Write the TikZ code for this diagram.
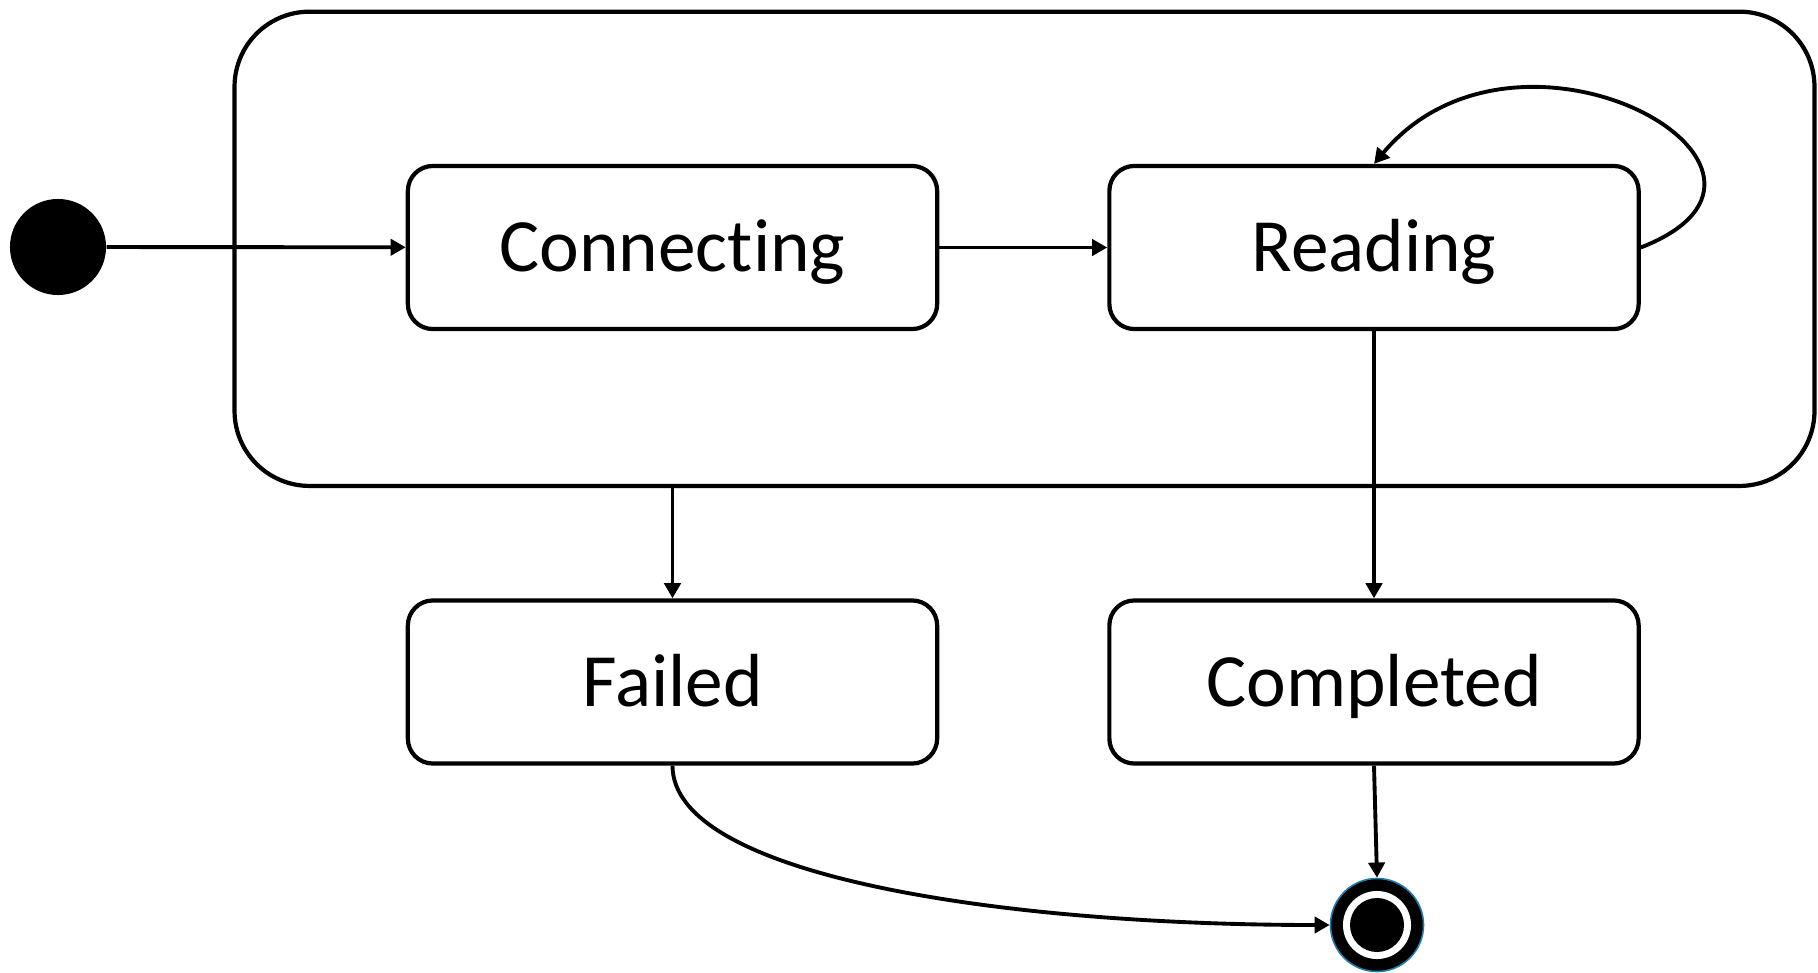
\documentclass[tikz,border=0pt]{standalone}
\usepackage{fontspec}
\setmainfont{Carlito}[Ligatures={NoCommon,TeX}]
\usetikzlibrary{arrows.meta}
\definecolor{finblue}{HTML}{1E7EAA}
\begin{document}
\begin{tikzpicture}[x=0.01cm,y=-0.01cm,
  statebox/.style={draw, line width=1.2pt, rounded corners=0.25cm,
    minimum width=5.29cm, minimum height=1.63cm, inner sep=0pt,
    font=\fontsize{21.4}{25}\selectfont, text height=13.7pt, text depth=0pt},
  arr/.style={line width=1.1pt, -{Triangle[length=4.3pt,width=4.6pt]}}]
\useasboundingbox (0,0) rectangle (1818,973);
\node[draw, line width=1.2pt, rounded corners=0.75cm, minimum width=15.79cm,
  minimum height=4.74cm] (outer) at (1024.5,248.8) {};
\node[circle, fill=black, minimum size=0.96cm, inner sep=0pt] (init) at (58,247) {};
\node[statebox] (C) at (672.5,247.5) {Connecting};
\node[statebox] (R) at (1374,247.5) {Reading};
\node[statebox] (F) at (672.5,682) {Failed};
\node[statebox] (D) at (1374,682) {Completed};
\node[circle, fill=black, draw=finblue, line width=0.45pt, minimum size=0.93cm, inner sep=0pt] (fin) at (1377,925) {};
\node[circle, fill=white, minimum size=0.68cm, inner sep=0pt] (finring) at (fin.center) {};
\node[circle, fill=black, minimum size=0.54cm, inner sep=0pt] (fincore) at (fin.center) {};
\draw[arr] (init) -- (C);
\draw[arr] (C) -- (R);
\draw[arr] (R.east) .. controls (1840,170) and (1520,-10) .. (R.north);
\draw[arr] (R.south) -- (D.north);
\draw[arr] (F.north |- outer.south) -- (F.north);
\draw[arr] (D.south) -- (fin.north);
\draw[arr] (F.south) .. controls +(0,110) and +(-330,0) .. (fin.west);
\end{tikzpicture}
\end{document}
